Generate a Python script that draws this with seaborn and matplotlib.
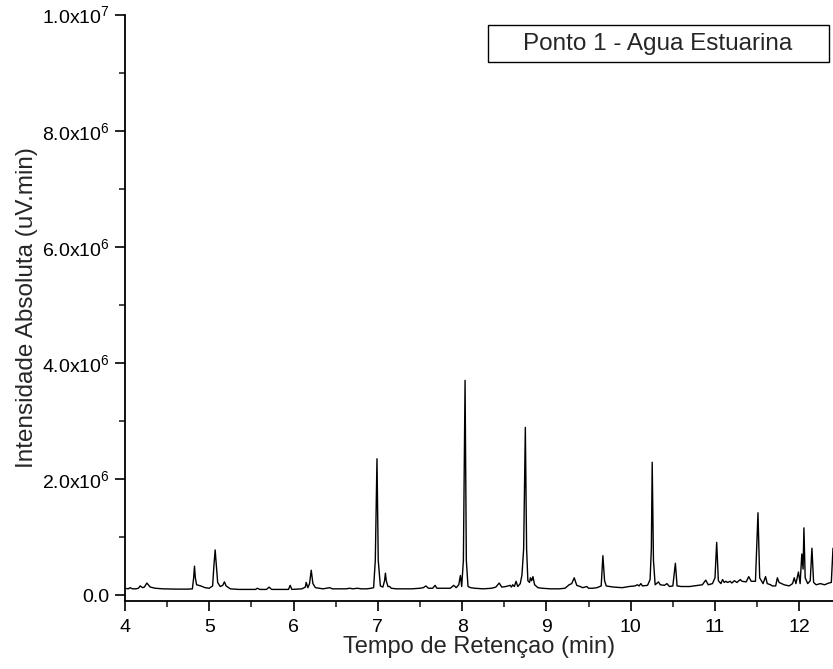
import numpy as np
import pandas as pd
import seaborn as sns
import matplotlib.pyplot as plt
from matplotlib.patches import Rectangle
from matplotlib.ticker import FixedLocator, FuncFormatter

tempo = [
    4.00, 4.04, 4.06, 4.09, 4.13, 4.16, 4.18, 4.21, 4.23, 4.26, 4.30, 4.36, 4.45, 4.60, 4.75,
    4.80, 4.815, 4.825, 4.835, 4.85, 4.90, 4.95, 5.00, 5.04, 5.055, 5.07, 5.085, 5.10, 5.13,
    5.16, 5.18, 5.20, 5.25, 5.35, 5.45, 5.55, 5.57, 5.60, 5.68, 5.71, 5.74, 5.85, 5.94, 5.96,
    5.98, 6.10, 6.14, 6.15, 6.17, 6.19, 6.21, 6.23, 6.26, 6.35, 6.43, 6.46, 6.55, 6.62, 6.67,
    6.70, 6.76, 6.80, 6.87, 6.92, 6.95, 6.97, 6.99, 7.005, 7.03, 7.06, 7.08, 7.09, 7.10, 7.12,
    7.14, 7.16, 7.22, 7.30, 7.40, 7.50, 7.54, 7.57, 7.60, 7.65, 7.68, 7.70, 7.80, 7.86, 7.90,
    7.93, 7.96, 7.98, 7.995, 8.015, 8.035, 8.05, 8.07, 8.10, 8.15, 8.25, 8.35, 8.40, 8.44,
    8.47, 8.52, 8.57, 8.585, 8.60, 8.62, 8.64, 8.66, 8.69, 8.71, 8.73, 8.75, 8.765, 8.78,
    8.80, 8.81, 8.825, 8.84, 8.86, 8.90, 8.95, 9.05, 9.15, 9.22, 9.27, 9.30, 9.33, 9.36, 9.40,
    9.43, 9.48, 9.50, 9.55, 9.60, 9.65, 9.67, 9.69, 9.71, 9.75, 9.80, 9.90, 9.98, 10.05, 10.08,
    10.10, 10.12, 10.14, 10.20, 10.23, 10.245, 10.255, 10.27, 10.29, 10.33, 10.35, 10.40,
    10.43, 10.46, 10.50, 10.53, 10.55, 10.60, 10.70, 10.75, 10.80, 10.85, 10.89, 10.92, 10.97,
    11.00, 11.02, 11.04, 11.07, 11.09, 11.11, 11.13, 11.15, 11.18, 11.20, 11.23, 11.26, 11.30,
    11.32, 11.37, 11.40, 11.43, 11.48, 11.51, 11.53, 11.57, 11.60, 11.62, 11.66, 11.68, 11.72,
    11.74, 11.76, 11.82, 11.88, 11.92, 11.94, 11.96, 11.99, 12.01, 12.03, 12.045, 12.055,
    12.07, 12.10, 12.13, 12.15, 12.17, 12.20, 12.25, 12.30, 12.35, 12.38, 12.40,
]
intensidade = [
    0.12, 0.11, 0.13, 0.11, 0.11, 0.12, 0.16, 0.13, 0.14, 0.21, 0.14, 0.12, 0.11, 0.105, 0.105,
    0.11, 0.30, 0.50, 0.30, 0.18, 0.16, 0.13, 0.12, 0.16, 0.50, 0.78, 0.50, 0.22, 0.15,
    0.17, 0.23, 0.16, 0.11, 0.10, 0.10, 0.10, 0.12, 0.10, 0.10, 0.14, 0.10, 0.10, 0.10, 0.17,
    0.10, 0.11, 0.14, 0.22, 0.13, 0.20, 0.43, 0.20, 0.13, 0.11, 0.13, 0.11, 0.11, 0.11, 0.12,
    0.11, 0.12, 0.11, 0.11, 0.12, 0.13, 0.60, 2.35, 0.60, 0.16, 0.14, 0.25, 0.38, 0.25, 0.15,
    0.15, 0.12, 0.11, 0.11, 0.11, 0.12, 0.13, 0.16, 0.12, 0.12, 0.17, 0.12, 0.12, 0.12, 0.17,
    0.13, 0.18, 0.34, 0.15, 0.60, 3.70, 0.60, 0.15, 0.13, 0.12, 0.11, 0.12, 0.14, 0.21,
    0.14, 0.15, 0.17, 0.14, 0.18, 0.15, 0.24, 0.15, 0.20, 0.35, 0.80, 2.89, 0.80, 0.25,
    0.22, 0.30, 0.25, 0.32, 0.18, 0.13, 0.12, 0.11, 0.11, 0.12, 0.18, 0.20, 0.30, 0.17, 0.15,
    0.13, 0.15, 0.12, 0.12, 0.13, 0.16, 0.68, 0.25, 0.16, 0.15, 0.14, 0.13, 0.15, 0.16, 0.18,
    0.16, 0.20, 0.16, 0.17, 0.27, 0.80, 2.29, 0.60, 0.18, 0.23, 0.18, 0.17,
    0.20, 0.15, 0.16, 0.55, 0.16, 0.15, 0.15, 0.16, 0.17, 0.18, 0.26, 0.18, 0.20,
    0.30, 0.91, 0.25, 0.20, 0.27, 0.22, 0.24, 0.22, 0.24, 0.21, 0.25, 0.22, 0.27,
    0.24, 0.23, 0.32, 0.24, 0.24, 1.42, 0.30, 0.20, 0.32, 0.20, 0.18, 0.16, 0.16,
    0.30, 0.22, 0.18, 0.16, 0.20, 0.30, 0.20, 0.40, 0.20, 0.71, 0.45, 1.16,
    0.30, 0.20, 0.25, 0.81, 0.22, 0.18, 0.20, 0.18, 0.21, 0.22, 0.81,
]

x_ticks = [4, 5, 6, 7, 8, 9, 10, 11, 12]
y_ticks = [0, 2e6, 4e6, 6e6, 8e6, 1e7]
titulo = "Ponto 1 - Agua Estuarina"

df = pd.DataFrame({"tempo": tempo, "intensidade": np.array(intensidade) * 1e6})

sns.set_style("ticks")
plt.rcParams["font.family"] = ["Liberation Sans", "DejaVu Sans"]
plt.rcParams["mathtext.fontset"] = "custom"
plt.rcParams["mathtext.rm"] = "Liberation Sans"
plt.rcParams["mathtext.it"] = "Liberation Sans"

fig = plt.figure(figsize=(8.33, 6.69), dpi=100)
ax = fig.add_axes([0.150, 0.1016, 0.850, 0.8767])

sns.lineplot(data=df, x="tempo", y="intensidade", color="black", linewidth=1.0,
             ax=ax, estimator=None, sort=False)

ax.set_xlim(4, 12.4)
ax.set_ylim(-1e5, 1e7)
ax.xaxis.set_major_locator(FixedLocator(x_ticks))
ax.xaxis.set_minor_locator(FixedLocator([t + 0.5 for t in x_ticks]))
ax.yaxis.set_major_locator(FixedLocator(y_ticks))
ax.yaxis.set_minor_locator(FixedLocator([v + 1e6 for v in y_ticks[:-1]]))


def fmt_y(v, pos):
    if v == 0:
        return "0.0"
    exp = int(np.floor(np.log10(v)))
    return r"$\mathrm{%.1fx10^{%d}}$" % (v / 10 ** exp, exp)


ax.yaxis.set_major_formatter(FuncFormatter(fmt_y))
ax.tick_params(which="major", direction="out", length=7, width=1.2, labelsize=14, colors="black")
ax.tick_params(axis="x", which="major", pad=6)
ax.tick_params(axis="y", which="major", pad=4)
ax.tick_params(which="minor", direction="out", length=4, width=1.2)

for side in ["top", "right"]:
    ax.spines[side].set_visible(False)
for side in ["left", "bottom"]:
    ax.spines[side].set_linewidth(1.3)
    ax.spines[side].set_color("black")

ax.set_xlabel("Tempo de Retençao (min)", fontsize=17, labelpad=0)
ax.set_ylabel("Intensidade Absoluta (uV.min)", fontsize=17.5, labelpad=3)

ax.add_patch(Rectangle((0.5127, 0.919), 0.4817, 0.063, transform=ax.transAxes,
                       facecolor="white", edgecolor="black", linewidth=1.0, clip_on=False))
ax.text(0.753, 0.9505, titulo, transform=ax.transAxes, ha="center", va="center", fontsize=17.5)

fig.savefig("out.png", dpi=100)
